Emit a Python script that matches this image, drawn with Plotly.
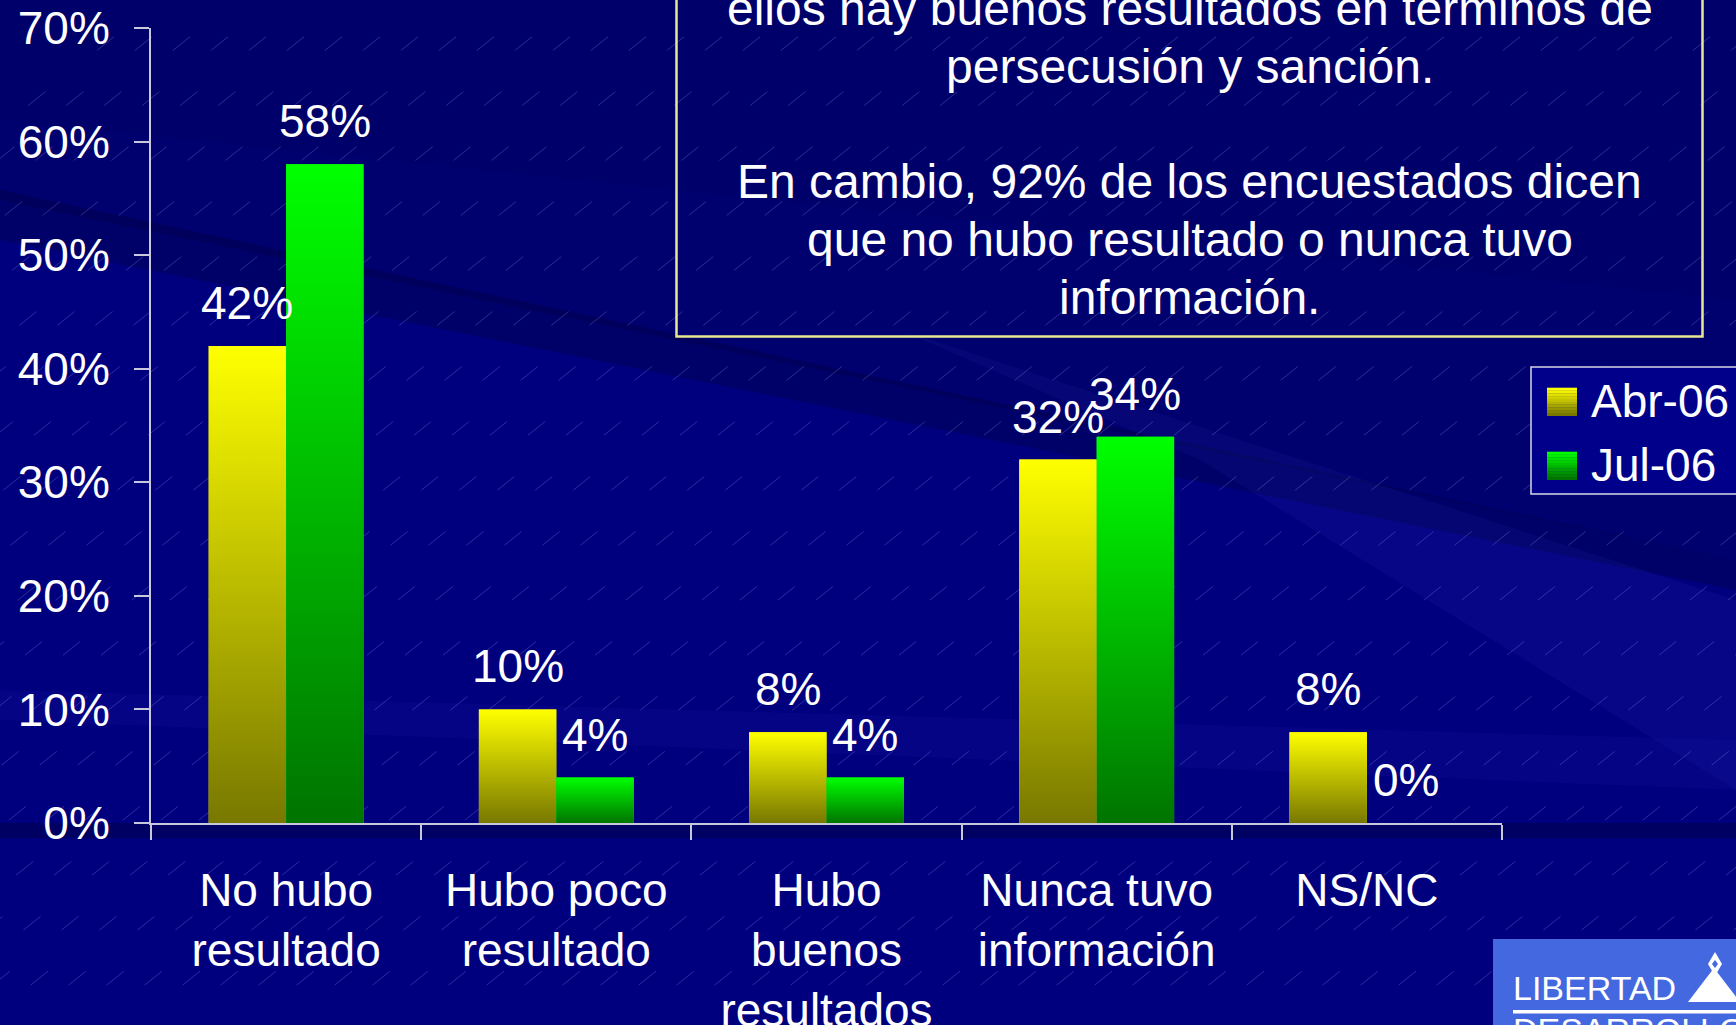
import plotly.graph_objects as go

# ---------------- data ----------------
categories = ["No hubo<br>resultado", "Hubo poco<br>resultado", "Hubo<br>buenos<br>resultados",
              "Nunca tuvo<br>información", "NS/NC"]
series_names = ["Abr-06", "Jul-06"]
abr_06 = [42, 10, 8, 32, 8]
jul_06 = [58, 4, 4, 34, 0]
y_tick_vals = [0, 10, 20, 30, 40, 50, 60, 70]
y_tick_text = ["0%", "10%", "20%", "30%", "40%", "50%", "60%", "70%"]
note_lines = ["ellos hay buenos resultados en términos de", "persecusión y sanción.", "",
              "En cambio, 92% de los encuestados dicen", "que no hubo resultado o nunca tuvo",
              "información."]
logo_lines = ["LIBERTAD", "DESARROLLO"]

# ---------------- style ----------------
W, H = 1736, 1025
L, R, T, B = 151, 234, 28, 202
PW, PH = W - L - R, H - T - B
FONT = "Liberation Sans, Arial, sans-serif"
BARGAP = 0.427
HALF = (1 - BARGAP) / 2
YEL = ("#787800", "#FFFF00")   # bottom, top
GRN = ("#007400", "#00FF00")


def fx(x):
    return (x - L) / PW


def fy(y):
    return (H - B - y) / PH


fig = go.Figure()
series = [(series_names[0], abr_06, YEL, -1), (series_names[1], jul_06, GRN, 1)]

for name, vals, cols, side in series:
    fig.add_trace(go.Bar(x=categories, y=vals, name=name, marker_color=cols[1],
                         marker_line_width=0, showlegend=False, hoverinfo="x+y+name"))

# gradient overlays on each bar (same data, same axis scale)
for name, vals, cols, side in series:
    for i, v in enumerate(vals):
        if v <= 0:
            continue
        x0, x1 = (i - HALF, i) if side < 0 else (i, i + HALF)
        fig.add_trace(go.Scatter(
            x=[x0, x1, x1, x0, x0], y=[0, 0, v, v, 0], xaxis="x2", yaxis="y",
            mode="lines", line=dict(width=0), fill="toself",
            fillgradient=dict(type="vertical", colorscale=[[0, cols[0]], [1, cols[1]]]),
            hoverinfo="skip", showlegend=False))

annotations = []
# data labels
for name, vals, cols, side in series:
    for i, v in enumerate(vals):
        xc = i - HALF / 2 if side < 0 else i + HALF / 2
        annotations.append(dict(x=xc, y=v, xref="x2", yref="y", text=f"{v}%", showarrow=False,
                                yanchor="bottom", xanchor="center", yshift=15,
                                font=dict(family=FONT, size=46, color="white")))

# note text box lines
baselines = [25, 83, None, 199, 256, 314]
for line, bl in zip(note_lines, baselines):
    if not line:
        continue
    annotations.append(dict(x=fx(1189.5), y=fy(bl - 17), xref="paper", yref="paper", text=line,
                            showarrow=False, xanchor="center", yanchor="middle",
                            font=dict(family=FONT, size=48, color="white")))

# custom legend
legend_rows = [(series_names[0], YEL, 401.7), (series_names[1], GRN, 465.7)]
shapes = []
for name, cols, yc in legend_rows:
    annotations.append(dict(x=fx(1589), y=fy(yc - 1), xref="paper", yref="paper", text=name,
                            showarrow=False, xanchor="left", yanchor="middle",
                            font=dict(family=FONT, size=46, color="white")))

# logo text
annotations.append(dict(x=fx(1511), y=fy(988), xref="paper", yref="paper", text=logo_lines[0],
                        showarrow=False, xanchor="left", yanchor="middle",
                        font=dict(family=FONT, size=34, color="white")))
annotations.append(dict(x=fx(1511), y=fy(1030), xref="paper", yref="paper", text=logo_lines[1],
                        showarrow=False, xanchor="left", yanchor="middle",
                        font=dict(family=FONT, size=34, color="white")))


def rect(x0, y0, x1, y1, **kw):
    d = dict(type="rect", xref="paper", yref="paper", x0=fx(x0), x1=fx(x1), y0=fy(y1), y1=fy(y0))
    d.update(kw)
    return d


def poly(pts, **kw):
    path = "M" + " L".join(f"{fx(a):.5f},{fy(b):.5f}" for a, b in pts) + " Z"
    d = dict(type="path", xref="paper", yref="paper", path=path)
    d.update(kw)
    return d


def seg(xa, ya, xb, yb, **kw):
    d = dict(type="line", xref="paper", yref="paper", x0=fx(xa), y0=fy(ya), x1=fx(xb), y1=fy(yb))
    d.update(kw)
    return d


# background decorations (soft diagonal bands)
shapes.append(poly([(0, 0), (1736, 0), (1736, 300), (0, 120)], fillcolor="rgba(0,0,40,0.22)",
                   line_width=0, layer="below"))
shapes.append(poly([(0, 120), (1736, 300), (1736, 560), (0, 200)], fillcolor="rgba(0,0,40,0.18)",
                   line_width=0, layer="below"))
shapes.append(poly([(0, 190), (1736, 560), (1736, 590), (0, 240)], fillcolor="rgba(0,0,30,0.22)",
                   line_width=0, layer="below"))
shapes.append(poly([(900, 330), (1736, 600), (1736, 790), (1200, 460)],
                   fillcolor="rgba(80,80,230,0.08)", line_width=0, layer="below"))
shapes.append(poly([(0, 690), (1736, 740), (1736, 790), (0, 720)],
                   fillcolor="rgba(60,60,210,0.07)", line_width=0, layer="below"))
shapes.append(rect(0, 823, 1736, 838, fillcolor="rgba(0,0,50,0.35)", line_width=0, layer="below"))

# faint diagonal hatch lines
slope = 0.8
for k in range(-30, 90):
    xa = k * 38
    shapes.append(seg(xa, 1040, xa + 1060 / slope, -20,
                      line=dict(color="rgba(190,190,255,0.24)", width=1, dash="22px,66px"),
                      layer="below"))

# note box border
shapes.append(rect(676.5, -20, 1702.5, 336.5, line=dict(color="#E8E890", width=2.5),
                   fillcolor="rgba(0,0,0,0)"))
# legend box and swatches
shapes.append(rect(1531, 367, 1760, 494, line=dict(color="#D8D8E8", width=1.5),
                   fillcolor="#00008A"))


def hex2rgb(h):
    return tuple(int(h[k:k + 2], 16) for k in (1, 3, 5))


for name, cols, yc in legend_rows:
    c0, c1 = hex2rgb(cols[0]), hex2rgb(cols[1])
    n = 10
    top = yc - 14
    for k in range(n):
        t = 1 - k / (n - 1)
        c = tuple(round(c0[j] + (c1[j] - c0[j]) * t) for j in range(3))
        shapes.append(rect(1547, top + k * 2.8, 1577, top + (k + 1) * 2.8 + 0.3,
                           fillcolor=f"rgb{c}", line_width=0))

# logo
shapes.append(rect(1493, 939, 1760, 1040, fillcolor="#4468E0", line_width=0))
shapes.append(rect(1513, 1010, 1760, 1013.5, fillcolor="white", line_width=0))
shapes.append(poly([(1688, 1002), (1714, 968), (1740, 1002)], fillcolor="white", line_width=0))
shapes.append(poly([(1715, 952), (1722, 964), (1715, 976), (1708, 964)], fillcolor="white",
                   line_width=0))
shapes.append(poly([(1715, 960), (1718, 964), (1715, 968), (1712, 964)], fillcolor="#4468E0",
                   line_width=0))

AXC = "#C8C8DC"
fig.update_layout(
    width=W, height=H,
    margin=dict(l=L, r=R, t=T, b=B, pad=0, autoexpand=False),
    paper_bgcolor="#00007E", plot_bgcolor="rgba(0,0,0,0)",
    barmode="group", bargap=BARGAP, bargroupgap=0,
    showlegend=False,
    font=dict(family=FONT, color="white", size=46),
    xaxis=dict(type="category", range=[-0.5, 4.5], showgrid=False, zeroline=False,
               showline=True, linecolor=AXC, linewidth=2, ticks="outside", ticklen=15,
               tickwidth=1.5, tickcolor=AXC, tickson="boundaries", ticklabelstandoff=26,
               automargin=False, tickfont=dict(family=FONT, size=46, color="white")),
    xaxis2=dict(overlaying="x", range=[-0.5, 4.5], visible=False, anchor="y", automargin=False),
    yaxis=dict(range=[0, 70], tickvals=y_tick_vals, ticktext=y_tick_text, showgrid=False,
               zeroline=False, showline=True, linecolor=AXC, linewidth=2, ticks="outside",
               ticklen=15, tickwidth=1.5, tickcolor=AXC, ticklabelstandoff=15,
               automargin=False, tickfont=dict(family=FONT, size=46, color="white")),
    annotations=annotations,
    shapes=shapes,
)

fig.write_html("out.html", config={"displayModeBar": False},
               post_script="document.body.style.margin='0';document.body.style.overflow='hidden';")
